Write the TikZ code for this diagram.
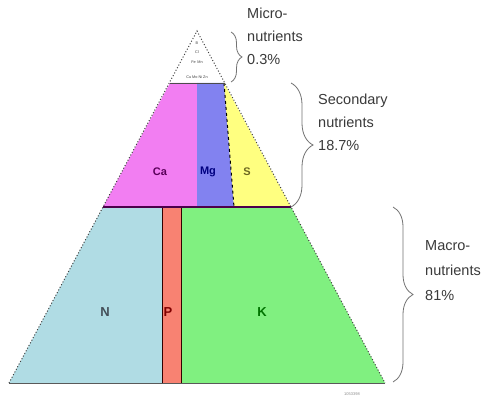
\documentclass[tikz,border=0pt]{standalone}
\usepackage{fontspec}
\setmainfont{Liberation Sans}
\usetikzlibrary{decorations.pathreplacing}
\definecolor{cN}{HTML}{B0DCE4}
\definecolor{cP}{HTML}{F88272}
\definecolor{cK}{HTML}{80F080}
\definecolor{cCa}{HTML}{F27EF2}
\definecolor{cMg}{HTML}{8282F0}
\definecolor{cS}{HTML}{FFFF80}
\definecolor{txt}{HTML}{3A3A3A}
\tikzset{
  dotline/.style={draw=black!75, line width=1pt, dotted},
  solidline/.style={draw=black!65, line width=1pt},
  elem/.style={font=\bfseries\fontsize{11}{11}\selectfont, inner sep=0pt},
  bigelem/.style={font=\bfseries\fontsize{13}{13}\selectfont, inner sep=0pt},
  grouplabel/.style={font=\fontsize{14.5}{23}\selectfont, text=txt, align=left, anchor=west, inner sep=0pt},
  bracestyle/.style={draw=black!55, line width=0.8pt, decorate, decoration={brace, amplitude=#1}},
  micro/.style={font=\fontsize{3.8}{3.8}\selectfont, text=black!75, inner sep=0pt}
}
\begin{document}
\begin{tikzpicture}[x=1pt,y=1pt]
\useasboundingbox (0,0) rectangle (500,402);
\fill[white] (0,0) rectangle (500,402);
% key points (y = 402 - pixel row)
\coordinate (apex) at (197,371);
\coordinate (bl) at (9,19);
\coordinate (br) at (385,19);
\coordinate (sl) at (170,319);
\coordinate (sr) at (224,319);
\coordinate (ml) at (103,195);
\coordinate (mr) at (291,195);
\coordinate (camgT) at (197,319);
\coordinate (camgB) at (197,195);
\coordinate (mgsB) at (234,195);
\coordinate (pLT) at (162,195);
\coordinate (pLB) at (162,19);
\coordinate (pRT) at (181,195);
\coordinate (pRB) at (181,19);
% macro band
\fill[cN] (bl) -- (ml) -- (pLT) -- (pLB) -- cycle;
\fill[cP] (pLB) -- (pLT) -- (pRT) -- (pRB) -- cycle;
\fill[cK] (pRB) -- (pRT) -- (mr) -- (br) -- cycle;
% secondary band
\fill[cCa] (ml) -- (sl) -- (camgT) -- (camgB) -- cycle;
\fill[cMg] (camgB) -- (camgT) -- (sr) -- (mgsB) -- cycle;
\fill[cS] (mgsB) -- (sr) -- (mr) -- cycle;
% inner lines
\draw[draw=black!80!red, line width=1pt] (pLT) -- (pLB) (pRT) -- (pRB);
\draw[draw=black, line width=1pt, dashed] (sr) -- (mgsB);
\draw[draw=violet!60!black, line width=1.1pt] (ml) -- (mr);
\draw[draw=black!70, line width=0.9pt] (sl) -- (sr);
\draw[solidline] (bl) -- (br);
% outline
\draw[dotline] (bl) -- (apex) -- (br);
% micro nutrients labels
\node[micro] (mB) at (197,359) {B};
\node[micro] (mCl) at (197,350) {Cl};
\node[micro] (mFe) at (197,340) {Fe\, Mn};
\node[micro] (mCu) at (197,325) {Cu Mo Ni Zn};
% element labels
\node[elem, text=violet!70!black] (Ca) at (160,230) {Ca};
\node[elem, text=blue!50!black] (Mg) at (208,230) {Mg};
\node[elem, text=olive!70!black] (S) at (247,230) {S};
\node[bigelem, text=cyan!25!black] (N) at (105,90) {N};
\node[bigelem, text=red!50!black] (P) at (168,90) {P};
\node[bigelem, text=green!45!black] (K) at (262,90) {K};
% braces
\coordinate (b1t) at (231,370);
\coordinate (b1b) at (231,320);
\coordinate (b2t) at (291,319);
\coordinate (b2b) at (291,195);
\coordinate (b3t) at (393,195);
\coordinate (b3b) at (393,20);
\draw[bracestyle=11] (b1t) -- (b1b);
\draw[bracestyle=22] (b2t) -- (b2b);
\draw[bracestyle=20] (b3t) -- (b3b);
% group labels
\node[grouplabel] (lmicro) at (247,366) {Micro-\\nutrients\\0.3\%};
\node[grouplabel] (lsec) at (318,280) {Secondary\\nutrients\\18.7\%};
\node[grouplabel, font=\fontsize{14.5}{25}\selectfont] (lmac) at (425,131) {Macro-\\nutrients\\81\%};
\node[font=\fontsize{4}{4}\selectfont, text=black!45, inner sep=0pt] (credit) at (352,8) {1053398};
\end{tikzpicture}
\end{document}
